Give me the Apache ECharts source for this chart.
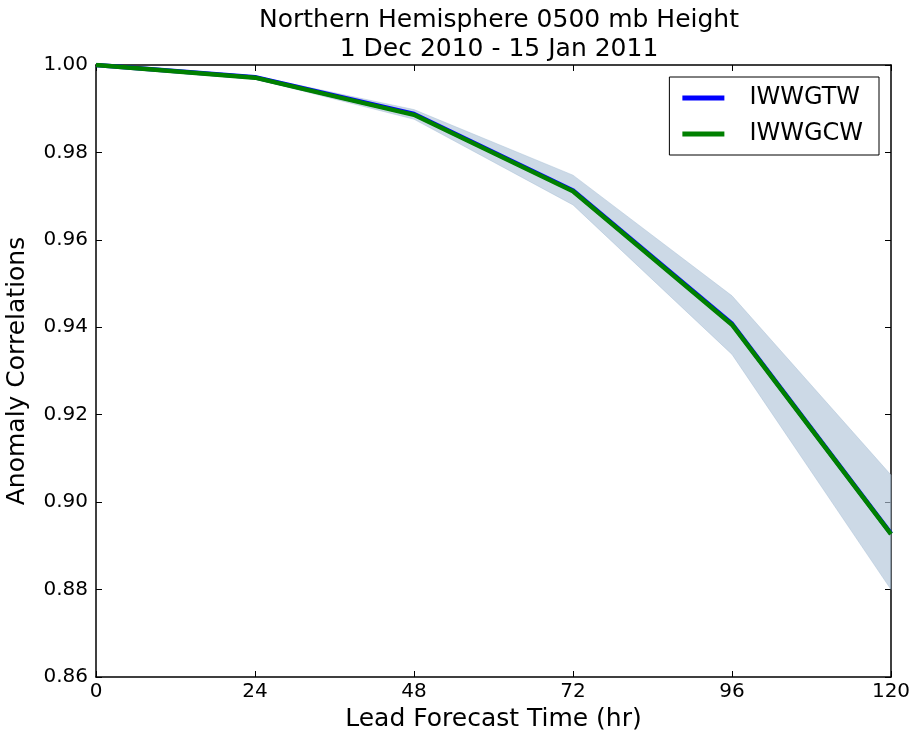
<!DOCTYPE html>
<html>
<head>
<meta charset="utf-8">
<script src="https://cdn.jsdelivr.net/npm/echarts@6/dist/echarts.min.js"></script>
<style>
  html, body { margin: 0; padding: 0; background: #fff; }
  #chart { width: 913px; height: 734px; }
</style>
</head>
<body>
<div id="chart"></div>
<script>
// lead forecast times (hr)
var leadHours = [0, 24, 48, 72, 96, 120];
// anomaly correlations
var iwwgtw = [1.000, 0.9972, 0.9888, 0.9713, 0.9408, 0.8928];
var iwwgcw = [1.000, 0.9971, 0.9886, 0.9711, 0.9406, 0.8927];
// confidence band
var bandLow = [1.000, 0.9968, 0.9876, 0.9680, 0.9338, 0.8800];
var bandHigh = [1.000, 0.9975, 0.9898, 0.9748, 0.9472, 0.9062];
var yTicks = [0.86, 0.88, 0.90, 0.92, 0.94, 0.96, 0.98, 1.00];

var font = 'DejaVu Sans';

function pairs(vals) {
  var out = [];
  for (var i = 0; i < leadHours.length; i++) {
    out.push([leadHours[i], vals[i]]);
  }
  return out;
}

var bandData = [];
for (var i = 0; i < leadHours.length; i++) {
  bandData.push([leadHours[i], bandLow[i], bandHigh[i]]);
}

// polygon between the low and high band edges
function renderBand(params, api) {
  if (params.dataIndex !== 0) return;
  var top = [], bottom = [];
  for (var i = 0; i < bandData.length; i++) {
    top.push(api.coord([bandData[i][0], bandData[i][2]]));
    bottom.unshift(api.coord([bandData[i][0], bandData[i][1]]));
  }
  return {
    type: 'polygon',
    shape: { points: top.concat(bottom) },
    style: { fill: 'rgba(176,196,216,0.65)', stroke: 'rgba(160,185,210,0.8)', lineWidth: 0.5 }
  };
}

var chart = echarts.init(document.getElementById('chart'), null, { renderer: 'canvas' });

var tickStyle = { show: true, inside: true, length: 6, lineStyle: { color: '#000', width: 1 } };
var lineStyle = { show: true, onZero: false, lineStyle: { color: '#000', width: 1.5 } };

var option = {
  backgroundColor: '#fff',
  animation: false,
  title: {
    text: 'Northern Hemisphere 0500 mb Height\n1 Dec 2010 - 15 Jan 2011',
    left: 494,
    textAlign: 'center',
    top: 1,
    textStyle: { fontFamily: font, fontSize: 25, fontWeight: 'normal', color: '#000', lineHeight: 29 }
  },
  grid: { left: 96, right: 22, top: 65, bottom: 57, outerBoundsMode: 'none', containLabel: false },
  legend: {
    data: ['IWWGTW', 'IWWGCW'],
    orient: 'vertical',
    right: 34,
    top: 77,
    icon: 'rect',
    itemWidth: 42,
    itemHeight: 5,
    itemGap: 12,
    padding: [9, 16, 9, 13],
    borderColor: '#000',
    borderWidth: 1,
    backgroundColor: '#fff',
    textStyle: { fontFamily: font, fontSize: 24, color: '#000', padding: [0, 0, 0, 20] }
  },
  xAxis: [{
    type: 'value',
    min: 0,
    max: 120,
    interval: 24,
    name: 'Lead Forecast Time (hr)',
    nameLocation: 'middle',
    nameGap: 30,
    nameTextStyle: { fontFamily: font, fontSize: 25, color: '#000' },
    axisLine: lineStyle,
    axisTick: tickStyle,
    splitLine: { show: false },
    axisLabel: { fontFamily: font, fontSize: 20, color: '#000', margin: 5 }
  }, {
    type: 'value',
    position: 'top',
    min: 0,
    max: 120,
    interval: 24,
    axisLine: lineStyle,
    axisTick: tickStyle,
    splitLine: { show: false },
    axisLabel: { show: false }
  }],
  yAxis: [{
    type: 'value',
    min: yTicks[0],
    max: yTicks[yTicks.length - 1],
    interval: 0.02,
    name: 'Anomaly Correlations',
    nameLocation: 'middle',
    nameGap: 66,
    nameTextStyle: { fontFamily: font, fontSize: 25, color: '#000' },
    axisLine: lineStyle,
    axisTick: tickStyle,
    splitLine: { show: false },
    axisLabel: {
      fontFamily: font, fontSize: 20, color: '#000', margin: 8,
      formatter: function (v) { return v.toFixed(2); }
    }
  }, {
    type: 'value',
    position: 'right',
    min: yTicks[0],
    max: yTicks[yTicks.length - 1],
    interval: 0.02,
    axisLine: lineStyle,
    axisTick: tickStyle,
    splitLine: { show: false },
    axisLabel: { show: false }
  }],
  series: [{
    name: 'band',
    type: 'custom',
    renderItem: renderBand,
    data: bandData,
    encode: { x: 0, y: [1, 2] },
    silent: true,
    z: 1
  }, {
    name: 'IWWGTW',
    type: 'line',
    data: pairs(iwwgtw),
    symbol: 'none',
    color: '#0000ff',
    lineStyle: { color: '#0000ff', width: 4.5 },
    z: 2
  }, {
    name: 'IWWGCW',
    type: 'line',
    data: pairs(iwwgcw),
    symbol: 'none',
    color: '#008000',
    lineStyle: { color: '#008000', width: 4.5 },
    z: 3
  }]
};

chart.setOption(option);
</script>
</body>
</html>
